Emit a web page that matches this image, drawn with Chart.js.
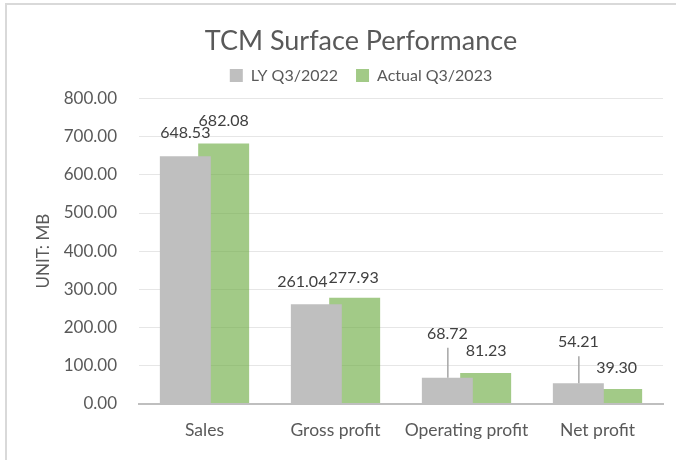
<!DOCTYPE html>
<html>
<head>
<meta charset="utf-8">
<script src="https://cdn.jsdelivr.net/npm/chart.js@4/dist/chart.umd.min.js"></script>
<style>
  html, body { margin: 0; padding: 0; background: #fff; overflow: hidden; }
  #wrap { position: relative; width: 676px; height: 460px; overflow: hidden; }
  #box { position: absolute; left: 0; top: 0; width: 693px; height: 460px; }
  .edge { position: absolute; background: #d9d9d9; }
  #edgeTop { left: 5px; top: 3px; width: 671px; height: 2px; }
  #edgeLeft { left: 5px; top: 3px; width: 2px; height: 457px; }
</style>
</head>
<body>
<div id="wrap">
  <div class="edge" id="edgeTop"></div>
  <div class="edge" id="edgeLeft"></div>
  <div id="box"><canvas id="chart"></canvas></div>
</div>
<script>
const categories = ['Sales', 'Gross profit', 'Operating profit', 'Net profit'];
const lastYear = [648.53, 261.04, 68.72, 54.21];
const actual = [682.08, 277.93, 81.23, 39.30];
const yTickValues = [0, 100, 200, 300, 400, 500, 600, 700, 800];

const FONT = 'Lato';
const TEXT = '#595959';

// value labels: offset from the bar's top centre (some were dragged in the original)
const labelOffsets = [
  [[0, -23], [-14, -22], [0, -44], [0, -41]],
  [[0, -23], [-1, -20], [0.5, -22.5], [0, -21]]
];
const leaderLines = [[false, false, true, true], [false, false, false, false]];

const barLabels = {
  id: 'barLabels',
  afterInit(chart) {
    // a bit more room under the legend
    const fit = chart.legend.fit;
    chart.legend.fit = function () {
      fit.call(this);
      this.height += 5;
    };
  },
  afterDatasetsDraw(chart) {
    const ctx = chart.ctx;
    ctx.save();
    ctx.font = '16px ' + FONT;
    ctx.textAlign = 'center';
    ctx.textBaseline = 'middle';
    chart.data.datasets.forEach((ds, i) => {
      chart.getDatasetMeta(i).data.forEach((bar, j) => {
        const [dx, dy] = labelOffsets[i][j];
        const x = bar.x + dx;
        const y = bar.y + dy;
        if (leaderLines[i][j]) {
          ctx.strokeStyle = '#a6a6a6';
          ctx.lineWidth = 1.5;
          ctx.beginPath();
          ctx.moveTo(bar.x + 0.5, y + 14);
          ctx.lineTo(bar.x + 0.5, bar.y);
          ctx.stroke();
        }
        ctx.fillStyle = '#404040';
        ctx.fillText(ds.data[j].toFixed(2), x, y);
      });
    });
    ctx.restore();
  }
};

new Chart(document.getElementById('chart'), {
  type: 'bar',
  data: {
    labels: categories,
    datasets: [
      { label: 'LY Q3/2022', data: lastYear, backgroundColor: '#bfbfbf',
        categoryPercentage: 0.585, barPercentage: 1.33 },
      { label: 'Actual Q3/2023', data: actual, backgroundColor: 'rgba(112,173,71,0.65)',
        categoryPercentage: 0.585, barPercentage: 1.33 }
    ]
  },
  options: {
    responsive: true,
    maintainAspectRatio: false,
    animation: false,
    layout: { padding: { left: 29, top: 10, right: 0, bottom: 3 } },
    plugins: {
      title: {
        display: true,
        text: 'TCM Surface Performance',
        color: TEXT,
        font: { family: FONT, size: 27, weight: 'normal' },
        padding: { top: 15, bottom: -8 }
      },
      legend: {
        labels: { color: TEXT, font: { family: FONT, size: 16 }, boxWidth: 13, boxHeight: 13, padding: 18 }
      },
      tooltip: { enabled: false }
    },
    scales: {
      x: {
        grid: { display: false, drawTicks: false },
        border: { display: true, color: '#bfbfbf', width: 2 },
        ticks: { color: TEXT, font: { family: FONT, size: 17.5 }, padding: 16 }
      },
      y: {
        min: 0,
        max: 800,
        afterBuildTicks: s => { s.ticks = yTickValues.map(v => ({ value: v })); },
        ticks: { color: TEXT, font: { family: FONT, size: 17 }, padding: 22, callback: v => Number(v).toFixed(2) },
        grid: {
          drawTicks: false,
          color: c => c.tick && c.tick.value === 0 ? '#bfbfbf' : '#e6e6e6',
          lineWidth: c => c.tick && c.tick.value === 0 ? 2 : 1
        },
        border: { display: false },
        title: { display: true, text: 'UNIT: MB', color: TEXT, font: { family: FONT, size: 17 } },
        afterFit: s => { s.width = 110; }
      },
      // empty right axis: only reserves the space to the right of the plot
      yRight: {
        position: 'right',
        grid: { display: false, drawTicks: false },
        ticks: { display: false },
        border: { display: false },
        afterFit: s => { s.width = 30; }
      }
    }
  },
  plugins: [barLabels]
});
</script>
</body>
</html>
